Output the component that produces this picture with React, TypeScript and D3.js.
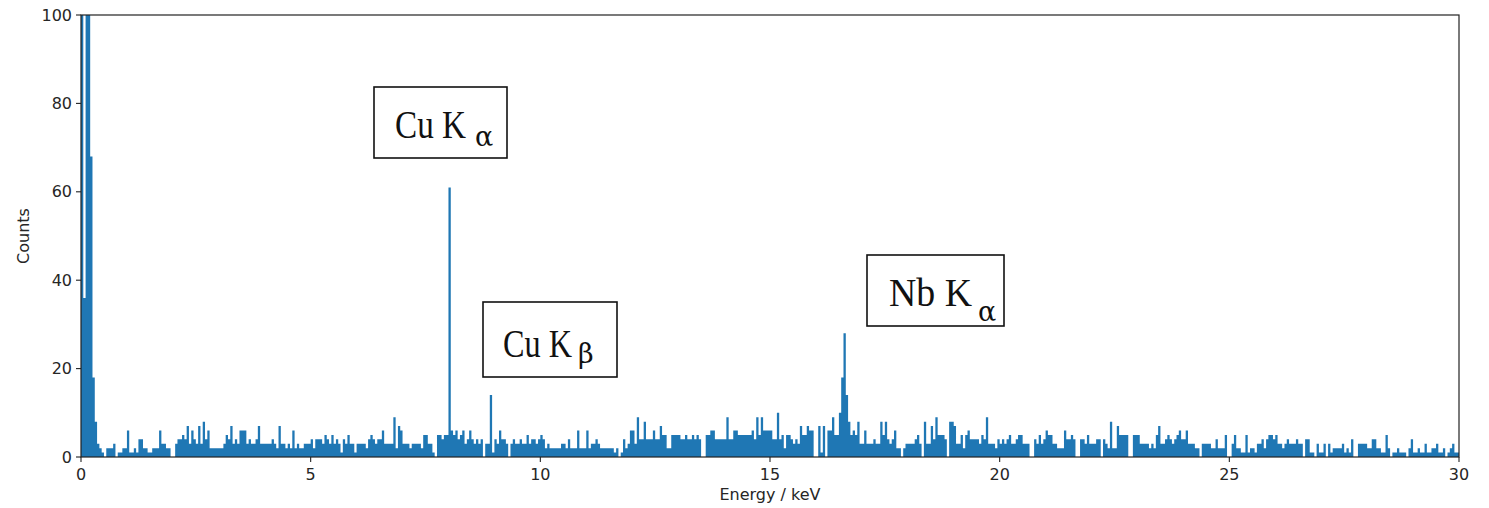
import React from "react";
import * as d3 from "d3";

// Spectrum: counts per 0.05 keV channel
const binWidthKeV = 0.05;
const counts0to5 = [
  450, 36, 380, 300, 68, 18, 8, 3, 2, 1, 0, 2, 2, 2, 3, 0, 1, 1, 2, 2, 6,
  1, 1, 2, 1, 4, 4, 2, 2, 1, 1, 2, 2, 2, 6, 3, 3, 2, 2, 0, 0,
  3, 4, 4, 5, 4, 7, 3, 6, 4, 3, 7, 3, 8, 4, 6, 2, 2, 2, 2, 2, 2,
  3, 5, 4, 7, 3, 4, 3, 6, 6, 6, 3, 4, 3, 3, 4, 7, 3, 3, 3,
  3, 3, 4, 3, 2, 7, 3, 3, 2, 3, 2, 6, 2, 3, 2, 2, 3, 3, 3,
];
const counts5to10 = [
  4, 2, 4, 4, 4, 3, 5, 4, 3, 5, 3, 4, 3, 1, 4, 3, 5, 3, 3, 1,
  3, 3, 3, 3, 2, 4, 5, 4, 3, 4, 4, 6, 3, 3, 3, 3, 9, 2, 7, 6,
  3, 3, 3, 2, 3, 3, 3, 3, 2, 5, 5, 3, 3, 1, 0, 5, 5, 4, 5, 5,
  61, 6, 5, 6, 4, 5, 6, 3, 4, 6, 4, 3, 4, 3, 4, 0, 3, 3, 14, 1,
  4, 3, 6, 4, 4, 3, 0, 3, 4, 3, 3, 4, 3, 3, 5, 3, 4, 4, 3, 4,
];
const counts10to15 = [
  5, 4, 2, 3, 2, 2, 2, 2, 2, 3, 3, 2, 4, 2, 2, 2, 6, 2, 2, 2,
  6, 2, 3, 3, 4, 3, 2, 2, 2, 2, 2, 2, 1, 2, 0, 1, 4, 2, 3, 6,
  6, 3, 9, 4, 4, 8, 4, 4, 4, 6, 4, 4, 7, 5, 5, 2, 2, 5, 5, 5,
  5, 4, 4, 5, 4, 4, 5, 4, 5, 4, 0, 0, 5, 5, 6, 6, 4, 4, 4, 4,
  4, 9, 4, 4, 6, 6, 5, 5, 5, 5, 5, 5, 6, 4, 9, 5, 9, 6, 6, 6,
];
const counts15to20 = [
  6, 4, 4, 10, 4, 5, 2, 5, 5, 4, 3, 4, 3, 7, 5, 5, 7, 6, 6, 0,
  0, 7, 1, 7, 0, 6, 6, 9, 5, 5, 10, 18, 28, 14, 8, 5, 6, 5, 8, 3,
  3, 6, 3, 3, 3, 4, 3, 3, 8, 5, 8, 4, 3, 4, 6, 2, 2, 0, 2, 3,
  3, 3, 3, 4, 5, 3, 0, 8, 3, 3, 7, 4, 9, 5, 5, 5, 4, 0, 8, 8,
  7, 3, 3, 5, 2, 5, 6, 4, 4, 4, 4, 3, 5, 4, 9, 3, 3, 3, 2, 4,
];
const counts20to25 = [
  3, 4, 3, 4, 5, 3, 3, 4, 5, 5, 3, 3, 3, 0, 0, 4, 3, 5, 3, 4,
  6, 5, 5, 3, 3, 2, 2, 2, 6, 4, 4, 5, 4, 0, 0, 4, 4, 3, 5, 3,
  3, 3, 4, 4, 0, 4, 3, 2, 8, 2, 2, 7, 5, 5, 5, 5, 0, 0, 5, 5,
  5, 3, 3, 3, 3, 2, 3, 2, 5, 7, 3, 3, 4, 5, 4, 3, 4, 5, 6, 4,
  4, 6, 3, 3, 3, 2, 2, 0, 3, 3, 3, 3, 2, 2, 4, 2, 2, 2, 5, 0,
];
const counts25to30 = [
  0, 3, 5, 2, 2, 1, 1, 5, 1, 2, 2, 1, 3, 3, 4, 2, 4, 5, 5, 4,
  5, 3, 3, 2, 3, 4, 3, 3, 3, 4, 3, 3, 0, 4, 4, 1, 1, 0, 3, 1,
  1, 3, 0, 3, 1, 2, 2, 2, 2, 3, 1, 2, 1, 4, 0, 0, 3, 3, 3, 3,
  2, 2, 4, 4, 2, 2, 1, 1, 5, 2, 0, 1, 1, 2, 1, 1, 1, 0, 2, 4,
  1, 1, 2, 1, 1, 3, 1, 1, 2, 2, 3, 1, 1, 2, 0, 1, 2, 3, 1, 1,
];

const xTicks = [0, 5, 10, 15, 20, 25, 30];
const yTicks = [0, 20, 40, 60, 80, 100];

const peakLabels = [
  { main: "Cu K", sub: "α", box: [374, 87, 133, 71], tx: 395, ty: 138, tw: 71, sx: 475, sy: 146 },
  { main: "Cu K", sub: "β", box: [483, 302, 134, 75], tx: 503, ty: 357, tw: 69, sx: 578, sy: 363 },
  { main: "Nb K", sub: "α", box: [867, 255, 137, 71], tx: 889, ty: 306, tw: 83, sx: 978, sy: 321 },
];

const W = 1489;
const H = 508;
const M = { left: 81, right: 30, top: 15, bottom: 51 };

export default function App() {
  const counts = [
    ...counts0to5,
    ...counts5to10,
    ...counts10to15,
    ...counts15to20,
    ...counts20to25,
    ...counts25to30,
  ];
  const x = d3.scaleLinear().domain([0, 30]).range([M.left, W - M.right]);
  const y = d3.scaleLinear().domain([0, 100]).range([H - M.bottom, M.top]);

  const pts: [number, number][] = counts.map((c, i) => [i * binWidthKeV, c]);
  pts.push([counts.length * binWidthKeV, counts[counts.length - 1]]);
  const area = d3
    .area<[number, number]>()
    .x((d) => x(d[0]))
    .y0(y(0))
    .y1((d) => y(Math.min(d[1], 105)))
    .curve(d3.curveStepAfter);

  const axisColor = "#222";
  const textColor = "#262626";
  const font = "DejaVu Sans, sans-serif";

  return (
    <svg
      width={W}
      height={H}
      style={{ position: "absolute", left: 0, top: 0, background: "#fff" }}
    >
      <defs>
        <clipPath id="plotclip">
          <rect x={M.left} y={M.top} width={W - M.left - M.right} height={H - M.top - M.bottom} />
        </clipPath>
      </defs>
      <rect x={0} y={0} width={W} height={H} fill="#fff" />
      <path d={area(pts) || ""} fill="#1f77b4" clipPath="url(#plotclip)" />

      {/* frame */}
      <rect
        x={M.left}
        y={M.top}
        width={W - M.left - M.right}
        height={H - M.top - M.bottom}
        fill="none"
        stroke={axisColor}
        strokeWidth={1.2}
      />

      {/* x ticks */}
      {xTicks.map((t) => (
        <g key={"x" + t}>
          <line x1={x(t)} x2={x(t)} y1={y(0)} y2={y(0) + 5} stroke={axisColor} strokeWidth={1.1} />
          <text x={x(t)} y={y(0) + 23} textAnchor="middle" fontFamily={font} fontSize={16} fill={textColor}>
            {t}
          </text>
        </g>
      ))}
      {/* y ticks */}
      {yTicks.map((t) => (
        <g key={"y" + t}>
          <line x1={M.left - 5} x2={M.left} y1={y(t)} y2={y(t)} stroke={axisColor} strokeWidth={1.1} />
          <text x={M.left - 9} y={y(t) + 5.5} textAnchor="end" fontFamily={font} fontSize={16} fill={textColor}>
            {t}
          </text>
        </g>
      ))}

      <text x={770} y={500} textAnchor="middle" fontFamily={font} fontSize={16} fill={textColor}>
        Energy / keV
      </text>
      <text
        transform={`translate(29, ${(M.top + H - M.bottom) / 2}) rotate(-90)`}
        textAnchor="middle"
        fontFamily={font}
        fontSize={16}
        fill={textColor}
      >
        Counts
      </text>

      {peakLabels.map((p, i) => (
        <g key={"lab" + i}>
          <rect x={p.box[0]} y={p.box[1]} width={p.box[2]} height={p.box[3]} fill="#fff" stroke="#111" strokeWidth={1.6} />
          <text
            x={p.tx}
            y={p.ty}
            fontFamily="Liberation Serif, serif"
            fontSize={41}
            fill="#111"
            textLength={p.tw}
            lengthAdjust="spacingAndGlyphs"
          >
            {p.main}
          </text>
          <text
            x={p.sx}
            y={p.sy}
            fontFamily="DejaVu Serif, serif"
            fontSize={27}
            fill="#111"
          >
            {p.sub}
          </text>
        </g>
      ))}
    </svg>
  );
}
